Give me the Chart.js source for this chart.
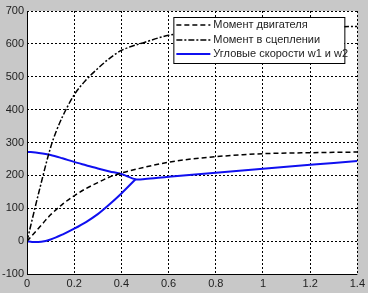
<!DOCTYPE html>
<html>
<head>
<meta charset="utf-8">
<script src="https://cdn.jsdelivr.net/npm/chart.js@4/dist/chart.umd.min.js"></script>
<style>
  html, body { margin: 0; padding: 0; background: #c8c8c8; }
  #wrap { width: 368px; height: 293px; }
</style>
</head>
<body>
<div id="wrap"><canvas id="chart" width="368" height="293"></canvas></div>
<script>
const xTicks = [0, 0.2, 0.4, 0.6, 0.8, 1, 1.2, 1.4];
const yTicks = [-100, 0, 100, 200, 300, 400, 500, 600, 700];

const tEngine = [0, 0.05, 0.1, 0.15, 0.2, 0.25, 0.3, 0.35, 0.4, 0.5, 0.6, 0.7, 0.8, 0.9, 1.0, 1.2, 1.4];
const engineMoment = [0, 40, 80, 112, 138, 160, 178, 195, 207, 225, 240, 250, 257, 262, 266, 269, 271];

const tClutch = [0, 0.05, 0.1, 0.125, 0.15, 0.2, 0.25, 0.3, 0.35, 0.4, 0.5, 0.6, 0.8, 1.0, 1.2, 1.4];
const clutchMoment = [0, 148, 285, 336, 378, 445, 490, 525, 556, 580, 605, 626, 642, 648, 651, 653];

const tW1 = [0, 0.05, 0.1, 0.15, 0.2, 0.25, 0.3, 0.35, 0.4, 0.46, 0.5, 0.6, 0.8, 1.0, 1.2, 1.4];
const w1 = [272, 268, 262, 252, 241, 231, 221, 212, 204, 188, 189, 196, 208, 220, 232, 244];

const tW2 = [0, 0.03, 0.06, 0.1, 0.15, 0.2, 0.25, 0.3, 0.35, 0.4, 0.46];
const w2 = [0, -3, -2, 5, 20, 38, 58, 82, 112, 145, 188];

const labels = ['Момент двигателя', 'Момент в сцеплении', 'Угловые скорости w1 и w2'];

function pts(xs, ys) {
    return xs.map((x, i) => ({ x: x, y: ys[i] }));
}

const legendBox = {
    id: 'legendBox',
    afterDraw(chart) {
        const ctx = chart.ctx;
        const area = chart.chartArea;
        const w = 171, h = 46;
        const left = area.right - 13 - w;
        const top = area.top + 6;
        ctx.save();
        ctx.fillStyle = '#ffffff';
        ctx.fillRect(left, top, w, h);
        ctx.strokeStyle = '#000000';
        ctx.lineWidth = 1;
        ctx.setLineDash([]);
        ctx.strokeRect(left + 0.5, top + 0.5, w, h);
        ctx.font = '11px "Liberation Sans", Arial, sans-serif';
        ctx.textBaseline = 'middle';
        const rows = [8, 23, 37];
        for (let i = 0; i < 3; i++) {
            const ds = chart.data.datasets[i];
            const y = top + rows[i];
            ctx.strokeStyle = ds.borderColor;
            ctx.lineWidth = i === 2 ? 2 : 1.5;
            ctx.setLineDash(ds.borderDash || []);
            ctx.beginPath();
            ctx.moveTo(left + 3, y);
            ctx.lineTo(left + 37, y);
            ctx.stroke();
            ctx.setLineDash([]);
            ctx.fillStyle = '#222222';
            ctx.fillText(ds.label, left + 40, y);
        }
        ctx.restore();
    }
};

const axesFrame = {
    id: 'axesFrame',
    beforeDraw(chart) {
        const ctx = chart.ctx;
        const a = chart.chartArea;
        ctx.save();
        ctx.fillStyle = '#c8c8c8';
        ctx.fillRect(0, 0, chart.width, chart.height);
        ctx.fillStyle = '#ffffff';
        ctx.fillRect(a.left, a.top, a.right - a.left, a.bottom - a.top);
        ctx.restore();
    },
    afterDatasetsDraw(chart) {
        // solid left and bottom axis lines
        const ctx = chart.ctx;
        const a = chart.chartArea;
        ctx.save();
        ctx.strokeStyle = '#000';
        ctx.lineWidth = 1;
        ctx.setLineDash([]);
        ctx.beginPath();
        ctx.moveTo(Math.round(a.left) + 0.5, a.top);
        ctx.lineTo(Math.round(a.left) + 0.5, Math.round(a.bottom) + 0.5);
        ctx.lineTo(a.right, Math.round(a.bottom) + 0.5);
        ctx.stroke();
        ctx.restore();
    }
};

const fontSpec = { family: '"Liberation Sans", Arial, sans-serif', size: 11 };

new Chart(document.getElementById('chart').getContext('2d'), {
    type: 'line',
    data: {
        datasets: [{
            label: labels[0],
            data: pts(tEngine, engineMoment),
            borderColor: '#000000',
            borderWidth: 1.5,
            borderDash: [5, 3],
            pointRadius: 0,
            cubicInterpolationMode: 'monotone'
        }, {
            label: labels[1],
            data: pts(tClutch, clutchMoment),
            borderColor: '#000000',
            borderWidth: 1.5,
            borderDash: [6, 2, 2, 2],
            pointRadius: 0,
            cubicInterpolationMode: 'monotone'
        }, {
            label: labels[2],
            data: pts(tW1, w1),
            borderColor: '#1010f0',
            borderWidth: 2,
            pointRadius: 0,
            tension: 0.3
        }, {
            label: 'w2',
            data: pts(tW2, w2),
            borderColor: '#1010f0',
            borderWidth: 2,
            pointRadius: 0,
            cubicInterpolationMode: 'monotone'
        }]
    },
    options: {
        responsive: false,
        animation: false,
        layout: { padding: { top: 11, right: 9, left: 0, bottom: 0 } },
        plugins: {
            legend: { display: false },
            tooltip: { enabled: false }
        },
        scales: {
            x: {
                type: 'linear',
                min: 0,
                max: 1.4,
                afterBuildTicks: s => { s.ticks = xTicks.map(v => ({ value: v })); },
                afterFit: s => { s.height = 19; },
                ticks: {
                    color: '#222',
                    font: fontSpec,
                    padding: 3,
                    maxRotation: 0,
                    callback: v => String(v)
                },
                grid: { color: '#000', lineWidth: 1, drawTicks: false },
                border: { display: false, dash: [2, 2] }
            },
            y: {
                type: 'linear',
                min: -100,
                max: 700,
                afterBuildTicks: s => { s.ticks = yTicks.map(v => ({ value: v })); },
                afterFit: s => { s.width = 27; },
                ticks: {
                    color: '#222',
                    font: fontSpec,
                    padding: 3,
                    callback: v => String(v)
                },
                grid: { color: '#000', lineWidth: 1, drawTicks: false },
                border: { display: false, dash: [2, 2] }
            }
        }
    },
    plugins: [axesFrame, legendBox]
});
</script>
</body>
</html>
